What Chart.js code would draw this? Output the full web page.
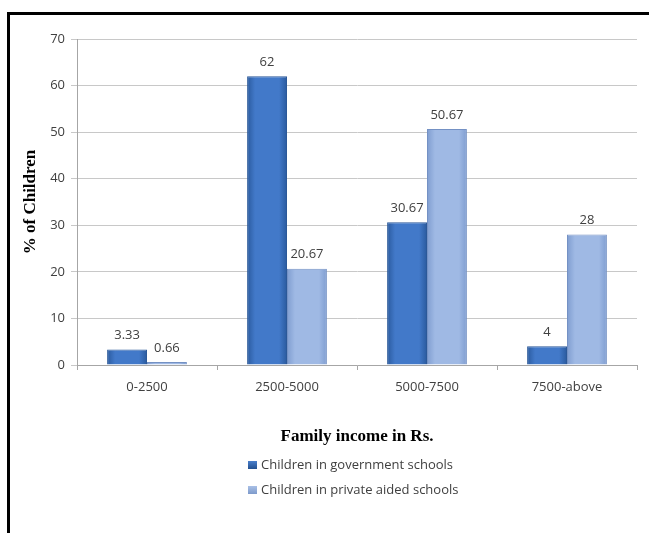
<!DOCTYPE html>
<html>
<head>
<meta charset="utf-8">
<script src="https://cdn.jsdelivr.net/npm/chart.js@4.4.0/dist/chart.umd.min.js"></script>
<style>
  html, body { margin: 0; padding: 0; background: #fff; }
  #marco { position: absolute; left: 0; top: 0; width: 649px; height: 533px; overflow: hidden; }
  #borde { position: absolute; left: 7px; top: 12px; width: 700px; height: 600px;
           border-top: 3px solid #000; border-left: 3px solid #000; box-sizing: border-box; }
  canvas { position: absolute; left: 0; top: 0; }
</style>
</head>
<body>
<div id="marco">
  <div id="borde"></div>
  <canvas id="grafico" width="649" height="533"></canvas>
</div>
<script>
const categorias = ['0-2500', '2500-5000', '5000-7500', '7500-above']
const gobierno = [3.33, 62, 30.67, 4]
const privadas = [0.66, 20.67, 50.67, 28]
const nombres = ['Children in government schools', 'Children in private aided schools']
const textoY = '% of Children'
const textoX = 'Family income in Rs.'

const fuente = '"Open Sans", "Noto Sans", sans-serif'
const serif = '"Liberation Serif", "Times New Roman", serif'
const grisTexto = '#404040'
const porcCategoria = 0.57

// degradado horizontal por barra, mas oscuro en los bordes
function relleno(oscuro, claro){
    return function(ctx){
        const chart = ctx.chart
        const x = chart.scales.x
        if(!x || ctx.type !== 'data') return claro
        const ancho = (x.getPixelForValue(1) - x.getPixelForValue(0)) * porcCategoria / 2
        const centro = x.getPixelForValue(ctx.dataIndex)
        if(!isFinite(ancho) || !isFinite(centro) || ancho <= 0) return claro
        const izq = ctx.datasetIndex === 0 ? centro - ancho : centro
        const g = chart.ctx.createLinearGradient(izq, 0, izq + ancho, 0)
        g.addColorStop(0, oscuro)
        g.addColorStop(0.2, claro)
        g.addColorStop(0.8, claro)
        g.addColorStop(1, oscuro)
        return g
    }
}

const etiquetas = {
    id: 'etiquetasValor',
    afterDatasetsDraw(chart){
        const {ctx} = chart
        ctx.save()
        ctx.font = '13px ' + fuente
        ctx.fillStyle = grisTexto
        ctx.textAlign = 'center'
        ctx.textBaseline = 'middle'
        chart.data.datasets.forEach((ds, i) => {
            chart.getDatasetMeta(i).data.forEach((barra, j) => {
                ctx.fillText(String(ds.data[j]), barra.x, barra.y - 14)
            })
        })
        ctx.restore()
    }
}

const leyenda = {
    id: 'leyendaVertical',
    afterDraw(chart){
        const {ctx} = chart
        const colores = [['#23508f', '#4a7fcc'], ['#7d9acb', '#a9c0e6']]
        ctx.save()
        ctx.font = '13px ' + fuente
        ctx.textBaseline = 'middle'
        chart.data.datasets.forEach((ds, i) => {
            const y = 465 + i * 25
            const g = ctx.createLinearGradient(0, y - 4, 0, y + 4)
            g.addColorStop(0, colores[i][1])
            g.addColorStop(1, colores[i][0])
            ctx.fillStyle = g
            ctx.fillRect(248, y - 4, 9, 8)
            ctx.fillStyle = grisTexto
            ctx.fillText(ds.label, 261, y)
        })
        ctx.restore()
    }
}

const grafico = new Chart(document.getElementById('grafico').getContext('2d'), {
    type: 'bar',
    data: {
        labels: categorias,
        datasets: [
            {
                label: nombres[0],
                data: gobierno,
                backgroundColor: relleno('#2a5a9e', '#4279c9'),
                borderColor: '#2b5898',
                borderWidth: 1,
                categoryPercentage: porcCategoria,
                barPercentage: 1
            },
            {
                label: nombres[1],
                data: privadas,
                backgroundColor: relleno('#7f9dd0', '#9fb9e4'),
                borderColor: '#7491c4',
                borderWidth: 1,
                categoryPercentage: porcCategoria,
                barPercentage: 1
            }
        ]
    },
    plugins: [etiquetas, leyenda],
    options: {
        responsive: false,
        animation: false,
        layout: { padding: { left: 12, right: 12, top: 39, bottom: 83 } },
        plugins: {
            legend: { display: false },
            tooltip: { enabled: false }
        },
        scales: {
            x: {
                afterFit: s => { s.height = 85 },
                grid: { offset: true, drawOnChartArea: false, tickLength: 5, color: '#a6a6a6' },
                border: { color: '#a6a6a6' },
                ticks: { color: grisTexto, font: { family: fuente, size: 13 }, padding: 9 },
                title: {
                    display: true,
                    text: textoX,
                    color: '#000',
                    font: { family: serif, size: 17, weight: 'bold' },
                    padding: { top: 0, bottom: 3 }
                }
            },
            y: {
                min: 0,
                max: 70,
                afterFit: s => { s.width = 65 },
                ticks: { stepSize: 10, color: grisTexto, font: { family: fuente, size: 13 }, padding: 6 },
                grid: { color: '#c8c8c8', tickLength: 6 },
                border: { color: '#a6a6a6' },
                title: {
                    display: true,
                    text: textoY,
                    color: '#000',
                    font: { family: serif, size: 17, weight: 'bold' },
                    padding: { top: 8, bottom: 0 }
                }
            }
        }
    }
})
// segunda pasada para que el degradado use la escala ya calculada
grafico.update()
</script>
</body>
</html>
